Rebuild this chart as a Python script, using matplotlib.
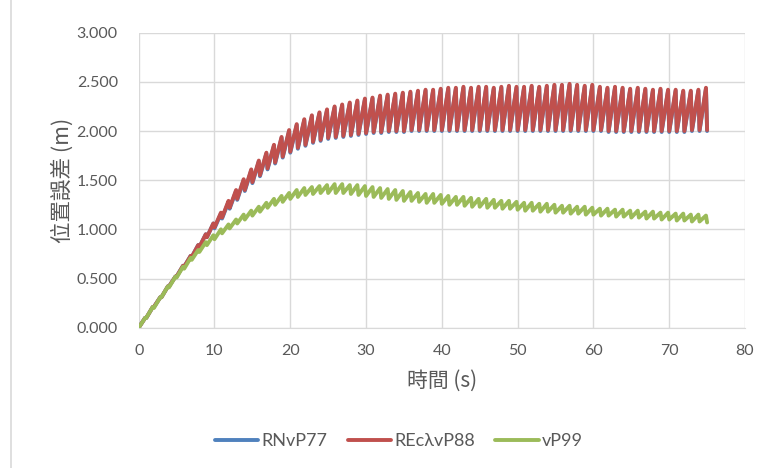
import matplotlib
matplotlib.use("Agg")
import matplotlib.pyplot as plt
from matplotlib.lines import Line2D
import numpy as np

# ---------------- data ----------------
series_names = ["RNvP77", "REcλvP88", "vP99"]
x_ticks = [0, 10, 20, 30, 40, 50, 60, 70, 80]
y_ticks = [0.0, 0.5, 1.0, 1.5, 2.0, 2.5, 3.0]

# times (s) of the cycle minima (76 values) and of the cycle maxima (75 values)
trough_t = np.arange(0, 76)
peak_t = np.arange(0, 75) + 0.85

red_trough = [0.00, 0.10, 0.21, 0.31, 0.42, 0.52, 0.62, 0.72, 0.82, 0.92,
              1.02, 1.12, 1.22, 1.31, 1.40, 1.48, 1.55, 1.62, 1.68, 1.74,
              1.79, 1.83, 1.86, 1.89, 1.91, 1.93, 1.94, 1.95, 1.96, 1.97,
              1.98, 1.99, 1.99, 2.00, 2.00, 2.00, 2.01, 2.01, 2.01, 2.01,
              2.01, 2.01, 2.01, 2.01, 2.01, 2.01, 2.01, 2.01, 2.01, 2.01,
              2.01, 2.01, 2.01, 2.01, 2.01, 2.01, 2.01, 2.01, 2.01, 2.01,
              2.01, 2.01, 2.00, 2.00, 2.00, 2.00, 2.00, 2.00, 2.00, 2.00,
              2.00, 2.00, 2.00, 2.01, 2.01, 2.01]
red_peak = [0.10, 0.21, 0.31, 0.42, 0.52, 0.63, 0.73, 0.84, 0.95, 1.06,
            1.17, 1.29, 1.40, 1.51, 1.61, 1.70, 1.78, 1.86, 1.94, 2.01,
            2.07, 2.12, 2.16, 2.19, 2.22, 2.25, 2.27, 2.29, 2.31, 2.33,
            2.34, 2.36, 2.37, 2.38, 2.39, 2.40, 2.41, 2.42, 2.42, 2.43,
            2.44, 2.44, 2.45, 2.44, 2.45, 2.45, 2.44, 2.45, 2.46, 2.45,
            2.45, 2.46, 2.45, 2.46, 2.47, 2.47, 2.48, 2.47, 2.46, 2.47,
            2.45, 2.44, 2.45, 2.44, 2.43, 2.44, 2.43, 2.42, 2.43, 2.42,
            2.42, 2.41, 2.41, 2.42, 2.44]

blue_trough = [0.00, 0.10, 0.21, 0.31, 0.42, 0.52, 0.62, 0.72, 0.82, 0.92,
               1.01, 1.11, 1.21, 1.30, 1.39, 1.47, 1.54, 1.61, 1.67, 1.73,
               1.78, 1.82, 1.85, 1.88, 1.90, 1.92, 1.93, 1.94, 1.95, 1.96,
               1.97, 1.98, 1.98, 1.99, 1.99, 1.99, 2.00, 2.00, 2.00, 2.00,
               2.00, 2.00, 2.00, 2.00, 2.00, 2.00, 2.00, 2.00, 2.00, 2.00,
               2.00, 2.00, 2.00, 2.00, 2.00, 2.00, 2.00, 2.00, 2.00, 2.00,
               2.00, 2.00, 1.99, 1.99, 1.99, 1.99, 1.99, 1.99, 1.99, 1.99,
               1.99, 1.99, 1.99, 2.00, 2.00, 2.00]
blue_peak = [0.10, 0.21, 0.31, 0.42, 0.52, 0.63, 0.73, 0.84, 0.95, 1.06,
             1.16, 1.28, 1.39, 1.50, 1.60, 1.69, 1.77, 1.85, 1.93, 2.00,
             2.06, 2.11, 2.15, 2.18, 2.21, 2.24, 2.26, 2.28, 2.30, 2.32,
             2.33, 2.35, 2.36, 2.37, 2.38, 2.39, 2.40, 2.41, 2.41, 2.42,
             2.43, 2.43, 2.44, 2.43, 2.44, 2.44, 2.43, 2.44, 2.45, 2.44,
             2.44, 2.45, 2.44, 2.45, 2.46, 2.46, 2.47, 2.46, 2.45, 2.46,
             2.44, 2.43, 2.44, 2.43, 2.42, 2.43, 2.42, 2.41, 2.42, 2.41,
             2.41, 2.40, 2.40, 2.41, 2.43]

green_trough = [0.00, 0.10, 0.20, 0.31, 0.41, 0.51, 0.60, 0.69, 0.77, 0.84,
                0.90, 0.96, 1.01, 1.06, 1.10, 1.14, 1.18, 1.22, 1.25, 1.28,
                1.31, 1.33, 1.35, 1.36, 1.37, 1.37, 1.37, 1.37, 1.36, 1.35,
                1.34, 1.33, 1.32, 1.31, 1.30, 1.29, 1.29, 1.28, 1.27, 1.27,
                1.26, 1.25, 1.25, 1.24, 1.23, 1.23, 1.22, 1.22, 1.21, 1.21,
                1.20, 1.19, 1.19, 1.18, 1.18, 1.17, 1.17, 1.16, 1.16, 1.15,
                1.15, 1.14, 1.14, 1.13, 1.13, 1.12, 1.12, 1.11, 1.11, 1.10,
                1.10, 1.09, 1.09, 1.08, 1.08, 1.07]
green_peak = [0.10, 0.21, 0.31, 0.42, 0.52, 0.62, 0.71, 0.79, 0.87, 0.94,
              1.00, 1.05, 1.10, 1.15, 1.19, 1.23, 1.27, 1.31, 1.34, 1.37,
              1.40, 1.42, 1.43, 1.44, 1.45, 1.46, 1.46, 1.45, 1.45, 1.44,
              1.43, 1.42, 1.41, 1.40, 1.39, 1.38, 1.37, 1.36, 1.36, 1.35,
              1.34, 1.33, 1.33, 1.32, 1.31, 1.31, 1.30, 1.29, 1.29, 1.28,
              1.27, 1.27, 1.26, 1.26, 1.25, 1.24, 1.24, 1.23, 1.23, 1.22,
              1.21, 1.21, 1.20, 1.20, 1.19, 1.19, 1.18, 1.18, 1.17, 1.17,
              1.16, 1.16, 1.15, 1.15, 1.14]

colors = ["#4F81BD", "#C0504D", "#9BBB59"]
gray = "#595959"
grid_c = "#D9D9D9"


def sawtooth(troughs, peaks):
    xs, ys = [], []
    for k in range(len(peaks)):
        xs += [trough_t[k], peak_t[k]]
        ys += [troughs[k], peaks[k]]
    xs.append(trough_t[len(peaks)])
    ys.append(troughs[len(peaks)])
    return xs, ys


latin = ["Lato", "Noto Sans CJK TC", "DejaVu Sans"]
cjk = ["Noto Sans CJK TC", "DejaVu Sans"]

fig = plt.figure(figsize=(7.71, 4.68), dpi=100)
fig.patch.set_facecolor("white")
ax = fig.add_axes([138.7 / 771, 1 - 327.7 / 468, (745 - 138.7) / 771, (327.7 - 32.7) / 468])

series = [(blue_trough, blue_peak), (red_trough, red_peak), (green_trough, green_peak)]
for (tr, pk), name, c in zip(series, series_names, colors):
    xs, ys = sawtooth(tr, pk)
    ax.plot(xs, ys, color=c, lw=2.8, label=name, solid_joinstyle="round",
            solid_capstyle="round", zorder=3)

ax.set_xlim(0, 80)
ax.set_ylim(0, 3)
ax.set_xticks(x_ticks)
ax.set_yticks(y_ticks)
ax.set_yticklabels([f"{v:.3f}" for v in y_ticks])
ax.grid(True, color=grid_c, lw=1.0, zorder=0)
for s in ["top", "right", "left"]:
    ax.spines[s].set_visible(False)
ax.spines["bottom"].set_color(grid_c)
ax.tick_params(axis="both", length=0, colors=gray, labelsize=11.5)
ax.tick_params(axis="y", pad=15)
ax.tick_params(axis="x", pad=12)
for lab in ax.get_xticklabels() + ax.get_yticklabels():
    lab.set_family(latin)

ax.set_xlabel("時間 (s)", family=cjk, fontsize=15, color=gray, labelpad=8)
ax.set_ylabel("位置誤差 (m)", family=cjk, fontsize=15.5, color=gray, labelpad=2)

leg = fig.legend(loc="center", bbox_to_anchor=(399 / 771, 1 - 441 / 468), ncol=3,
                 frameon=False, handlelength=2.4, handletextpad=0.2, columnspacing=1.1,
                 prop={"family": latin, "size": 13})
for t in leg.get_texts():
    t.set_color(gray)

fig.add_artist(Line2D([11 / 771, 11 / 771], [0, 1], transform=fig.transFigure, color=grid_c, lw=1.2))

fig.savefig("out.png", dpi=100, facecolor="white")
